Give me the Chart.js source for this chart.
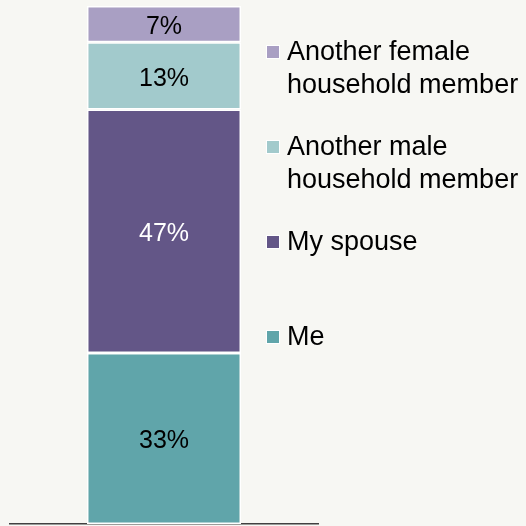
<!DOCTYPE html>
<html>
<head>
<meta charset="utf-8">
<script src="https://cdn.jsdelivr.net/npm/chart.js@4/dist/chart.umd.min.js"></script>
<style>
  html, body { margin: 0; padding: 0; background: #f7f7f3; }
  #wrap { width: 526px; height: 526px; }
</style>
</head>
<body>
<div id="wrap"><canvas id="resp_chart" width="526" height="526"></canvas></div>
<script>
// data, bottom of the stack first
var categories = ['All'];
var seriesNames = [['Me'], ['My spouse'], ['Another male', 'household member'], ['Another female', 'household member']];
var seriesValues = [33, 47, 13, 7];
var seriesColors = ['#60a5aa', '#635687', '#a2cacc', '#a99fc3'];
var labelColors = ['#000000', '#ffffff', '#000000', '#000000'];

var FONT = "'Liberation Sans', Arial, sans-serif";

var datasets = [];
for (var i = 0; i < seriesValues.length; i++) {
    datasets.push({
        label: seriesNames[i].join(' '),
        data: [seriesValues[i]],
        backgroundColor: seriesColors[i],
        borderColor: '#ffffff',
        borderWidth: 1.5,
        borderSkipped: false,
        barPercentage: 0.5,
        categoryPercentage: 1
    });
}

// percent labels inside each segment
var segmentLabels = {
    id: 'segmentLabels',
    afterDatasetsDraw: function (chart) {
        var ctx = chart.ctx;
        ctx.save();
        ctx.font = '25px ' + FONT;
        ctx.textAlign = 'center';
        ctx.textBaseline = 'middle';
        chart.data.datasets.forEach(function (ds, i) {
            var el = chart.getDatasetMeta(i).data[0];
            var p = el.getProps(['x', 'y', 'base'], true);
            ctx.fillStyle = labelColors[i];
            ctx.fillText(ds.data[0] + '%', p.x, (p.y + p.base) / 2 + 3);
        });
        ctx.restore();
    }
};

// legend on the right, top entry = top of the stack
var sideLegend = {
    id: 'sideLegend',
    afterDraw: function (chart) {
        var ctx = chart.ctx;
        var boxX = 267, textX = 287, top = 52, step = 95, lineH = 33, box = 12;
        ctx.save();
        ctx.font = '27px ' + FONT;
        ctx.textBaseline = 'middle';
        ctx.textAlign = 'left';
        var n = seriesNames.length;
        for (var k = 0; k < n; k++) {
            var i = n - 1 - k;
            var cy = top + k * step;
            ctx.fillStyle = '#ffffff';
            ctx.fillRect(boxX - 1, cy - box / 2 - 1, box + 2, box + 2);
            ctx.fillStyle = seriesColors[i];
            ctx.fillRect(boxX, cy - box / 2, box, box);
            ctx.fillStyle = '#000000';
            seriesNames[i].forEach(function (line, j) {
                ctx.fillText(line, textX, cy + j * lineH + 1);
            });
        }
        ctx.restore();
    }
};

new Chart(document.getElementById('resp_chart').getContext('2d'), {
    type: 'bar',
    data: { labels: categories, datasets: datasets },
    options: {
        responsive: false,
        animation: false,
        layout: { padding: { left: 10, right: 208, top: 6, bottom: 0 } },
        plugins: {
            legend: { display: false },
            tooltip: { enabled: false }
        },
        scales: {
            x: {
                stacked: true,
                ticks: { display: false },
                grid: { display: false },
                border: { display: true, color: '#404040', width: 1.5 },
                afterFit: function (scale) { scale.height = 2; }
            },
            y: {
                stacked: true,
                display: false,
                min: 0,
                max: 100
            }
        }
    },
    plugins: [segmentLabels, sideLegend]
});
</script>
</body>
</html>
